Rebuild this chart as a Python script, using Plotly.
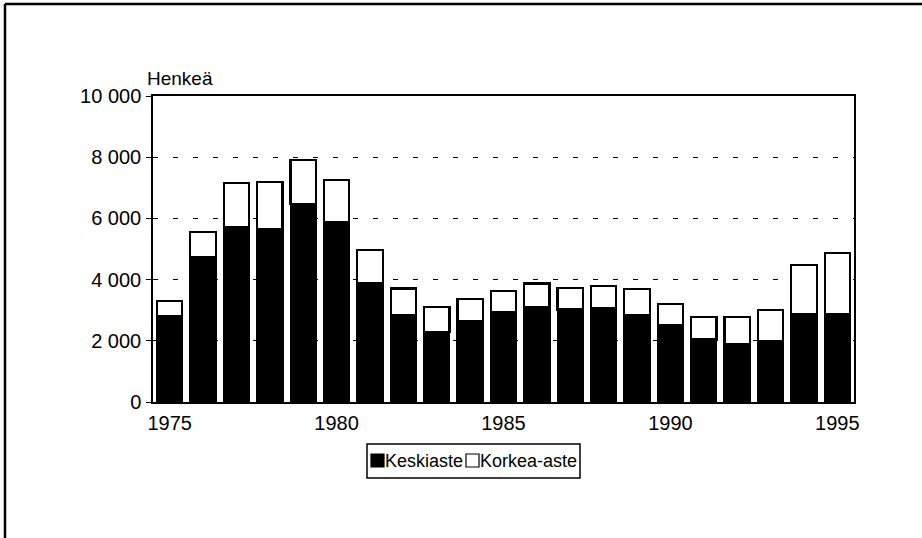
import plotly.graph_objects as go

years = list(range(1975, 1996))
keskiaste = [2800, 4750, 5720, 5660, 6480, 5890, 3900, 2850, 2300, 2650, 2930,
             3100, 3020, 3080, 2850, 2510, 2040, 1900, 2000, 2860, 2860]
korkea_aste = [510, 800, 1430, 1540, 1440, 1360, 1060, 860, 800, 720, 700,
               770, 710, 700, 850, 690, 740, 880, 1000, 1610, 2000]
y_ticks = [0, 2000, 4000, 6000, 8000, 10000]
x_ticks = [1975, 1980, 1985, 1990, 1995]
series_names = ["Keskiaste", "Korkea-aste"]
y_title = "Henkeä"

W, H = 922, 538
L, R, T, B = 153, 68, 96, 136
PW, PH = W - L - R, H - T - B

def px(x):
    return (x - L) / PW

def py(y):
    return (H - B - y) / PH

FONT = "Liberation Sans, Arial, sans-serif"

fig = go.Figure()
fig.add_trace(go.Bar(x=years, y=keskiaste, name=series_names[0],
                     marker=dict(color="black", line=dict(color="black", width=2)),
                     showlegend=False))
fig.add_trace(go.Bar(x=years, y=korkea_aste, name=series_names[1],
                     marker=dict(color="white", line=dict(color="black", width=2.2)),
                     showlegend=False))

fig.update_layout(
    width=W, height=H,
    barmode="stack", bargap=0.24,
    margin=dict(l=L, r=R, t=T, b=B),
    paper_bgcolor="white", plot_bgcolor="white",
    font=dict(family=FONT, size=20, color="black"),
    separators=", ",
    xaxis=dict(range=[1974.5, 1995.5], tickvals=x_ticks, showgrid=False,
               showline=True, linecolor="black", linewidth=1.5, mirror=True,
               ticks="", ticklabelstandoff=2, zeroline=False,
               tickfont=dict(family=FONT, size=20, color="black")),
    yaxis=dict(range=[0, 10000], tickvals=y_ticks, tickformat=",d",
               showgrid=True, gridcolor="black", gridwidth=1.2, griddash="5px,15px",
               showline=True, linecolor="black", linewidth=1.5, mirror=True,
               ticks="outside", ticklen=5, tickcolor="black", zeroline=False,
               ticklabelstandoff=1,
               tickfont=dict(family=FONT, size=20, color="black")),
)

# axis title "Henkeä"
fig.add_annotation(text=y_title, xref="paper", yref="paper", x=px(145), y=py(91),
                   xanchor="left", yanchor="bottom", showarrow=False,
                   font=dict(family=FONT, size=19, color="black"))

shapes = []
# scanned page frame (top and left edges)
shapes.append(dict(type="line", xref="paper", yref="paper", x0=px(5), x1=px(922),
                   y0=py(4), y1=py(4), line=dict(color="black", width=2.5)))
shapes.append(dict(type="line", xref="paper", yref="paper", x0=px(5), x1=px(5),
                   y0=py(4), y1=py(538), line=dict(color="black", width=2.5)))
# legend box
shapes.append(dict(type="rect", xref="paper", yref="paper", x0=px(367), x1=px(580),
                   y0=py(444), y1=py(478), line=dict(color="black", width=1.5),
                   fillcolor="white"))
shapes.append(dict(type="rect", xref="paper", yref="paper", x0=px(371), x1=px(384),
                   y0=py(454), y1=py(467), line=dict(color="black", width=1.2),
                   fillcolor="black"))
shapes.append(dict(type="rect", xref="paper", yref="paper", x0=px(466), x1=px(479),
                   y0=py(454), y1=py(467), line=dict(color="black", width=1.2),
                   fillcolor="white"))
fig.update_layout(shapes=shapes)

fig.add_annotation(text=series_names[0], xref="paper", yref="paper", x=px(383),
                   y=py(461), xanchor="left", yanchor="middle", showarrow=False,
                   font=dict(family=FONT, size=18, color="black"))
fig.add_annotation(text=series_names[1], xref="paper", yref="paper", x=px(478),
                   y=py(461), xanchor="left", yanchor="middle", showarrow=False,
                   font=dict(family=FONT, size=18, color="black"))

fig.write_html("out.html", config={"displayModeBar": False},
               post_script="document.body.style.margin='0';document.body.style.padding='0';")
